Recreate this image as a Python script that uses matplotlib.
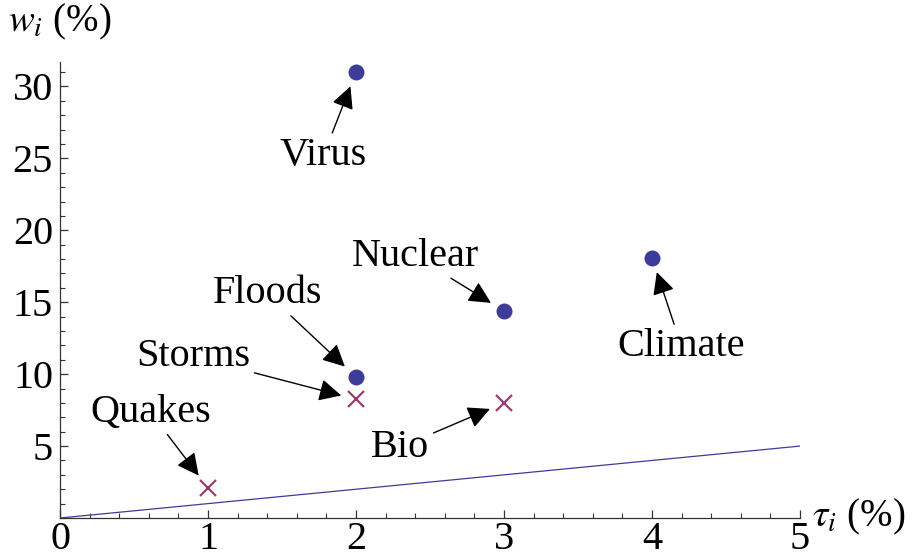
import matplotlib
matplotlib.use("Agg")
import matplotlib.pyplot as plt
from matplotlib.ticker import MultipleLocator, FixedLocator

plt.rcParams['font.family'] = ['Liberation Serif', 'DejaVu Serif']
plt.rcParams['mathtext.fontset'] = 'stix'

# data
circle_names = ["Virus", "Nuclear", "Climate", "Floods"]
circle_tau = [2, 3, 4, 2]
circle_w = [31.0, 14.4, 18.1, 9.8]

cross_names = ["Storms", "Quakes", "Bio"]
cross_tau = [2, 1, 3]
cross_w = [8.25, 2.1, 8.0]

line_x = [0, 5]
line_y = [0, 5]

# label positions (data coords)
label_pos = {
    "Virus": (1.78, 25.2),
    "Nuclear": (2.40, 18.2),
    "Climate": (4.20, 11.9),
    "Floods": (1.40, 15.6),
    "Storms": (0.90, 11.2),
    "Quakes": (0.61, 7.36),
    "Bio": (2.30, 4.93),
}

blue = "#3D3D99"
purple = "#993D71"

fig = plt.figure(figsize=(9.18, 5.56), dpi=100)
ax = fig.add_axes([60/918, 38/556, 740/918, 456/556])

ax.plot(line_x, line_y, color=blue, lw=0.9, zorder=2)
ax.plot(circle_tau, circle_w, 'o', color=blue, markersize=11.5, markeredgewidth=0, zorder=3)
ax.plot(cross_tau, cross_w, 'x', color=purple, markersize=11, markeredgewidth=1.6, zorder=3)

for names, xs, ys in [(circle_names, circle_tau, circle_w), (cross_names, cross_tau, cross_w)]:
    for n, x, y in zip(names, xs, ys):
        ax.annotate(n, xy=(x, y), xytext=label_pos[n], textcoords='data',
                    ha='center', va='center', fontsize=29,
                    arrowprops=dict(arrowstyle='-|>', color='black', lw=1,
                                    mutation_scale=34, shrinkA=1, shrinkB=11))

ax.set_xlim(0, 5)
ax.set_ylim(0, 31.7)
ax.spines['top'].set_visible(False)
ax.spines['right'].set_visible(False)
for s in ['left', 'bottom']:
    ax.spines[s].set_linewidth(0.9)
    ax.spines[s].set_color('#333333')

ax.xaxis.set_major_locator(MultipleLocator(1))
ax.xaxis.set_minor_locator(MultipleLocator(0.2))
ax.yaxis.set_major_locator(FixedLocator([5, 10, 15, 20, 25, 30]))
ax.yaxis.set_minor_locator(MultipleLocator(1))
ax.tick_params(which='major', direction='in', length=6, width=0.9, color='#333333', labelsize=29)
ax.tick_params(which='minor', direction='in', length=3.5, width=0.8, color='#333333')
ax.tick_params(axis='x', pad=2)
ax.tick_params(axis='y', pad=5)

fig.text(8/918, 1 - 22/556, r"$w_i$ (%)", fontsize=28, ha='left', va='center')
fig.text(812/918, 1 - 517/556, r"$\tau_i$ (%)", fontsize=28, ha='left', va='center')

fig.savefig("out.png", dpi=100)
